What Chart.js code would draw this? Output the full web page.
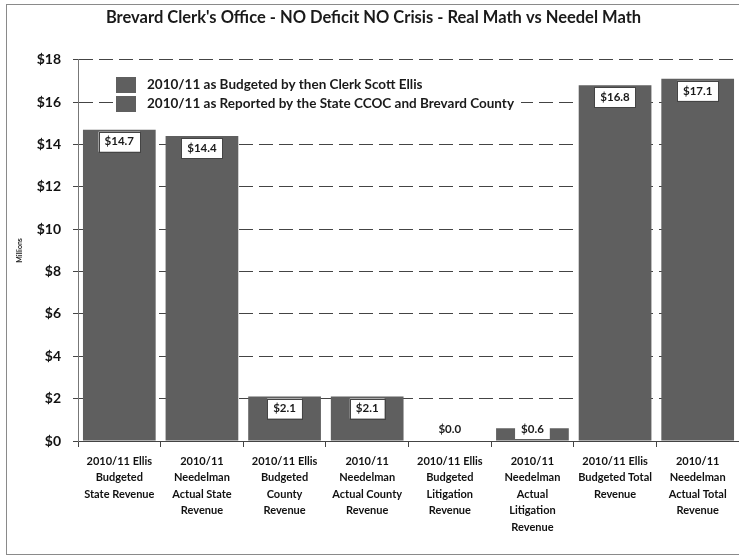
<!DOCTYPE html>
<html>
<head>
<meta charset="utf-8">
<script src="https://cdn.jsdelivr.net/npm/chart.js@4.4.0/dist/chart.umd.min.js"></script>
<style>
html, body { margin: 0; padding: 0; background: #fff; }
</style>
</head>
<body>
<canvas id="myChart" width="739" height="557"></canvas>
<script>
// categories and values (millions of dollars)
const categories = [
    ['2010/11 Ellis', 'Budgeted', 'State Revenue'],
    ['2010/11', 'Needelman', 'Actual State', 'Revenue'],
    ['2010/11 Ellis', 'Budgeted', 'County', 'Revenue'],
    ['2010/11', 'Needelman', 'Actual County', 'Revenue'],
    ['2010/11 Ellis', 'Budgeted', 'Litigation', 'Revenue'],
    ['2010/11', 'Needelman', 'Actual', 'Litigation', 'Revenue'],
    ['2010/11 Ellis', 'Budgeted Total', 'Revenue'],
    ['2010/11', 'Needelman', 'Actual Total', 'Revenue']
];
const budgetedEllis = [14.7, null, 2.1, null, 0.0, null, 16.8, null];
const reportedState = [null, 14.4, null, 2.1, null, 0.6, null, 17.1];
const seriesNames = [
    '2010/11 as Budgeted by then Clerk Scott Ellis',
    '2010/11 as Reported by the State CCOC and Brevard County'
];
const yMax = 18;
const yStep = 2;

const barGrey = '#5f5f5f';
const fontFam = 'Lato, "Open Sans", sans-serif';

const framePlugin = {
    id: 'frame',
    beforeDraw(chart) {
        const c = chart.ctx;
        c.save();
        c.fillStyle = '#fff';
        c.fillRect(0, 0, chart.width, chart.height);
        c.strokeStyle = '#8a8a8a';
        c.lineWidth = 1;
        c.strokeRect(6.5, 4.5, chart.width + 10, chart.height - 7);
        c.restore();
    }
};

// legend drawn inside the plot, one entry per row, on a white patch
const innerLegend = {
    id: 'innerLegend',
    afterDraw(chart) {
        const c = chart.ctx;
        c.save();
        c.font = 'bold 13.5px ' + fontFam;
        c.textBaseline = 'middle';
        let maxW = 0;
        chart.data.datasets.forEach(ds => { maxW = Math.max(maxW, c.measureText(ds.label).width); });
        c.fillStyle = '#fff';
        c.fillRect(138, 75, maxW + 16, 40);
        chart.data.datasets.forEach((ds, i) => {
            const y = 85 + i * 19;
            c.fillStyle = ds.backgroundColor;
            c.fillRect(116, y - 8, 20, 16);
            c.fillStyle = '#1a1a1a';
            c.fillText(ds.label, 147, y);
        });
        c.restore();
    }
};

const valueLabels = {
    id: 'valueLabels',
    afterDatasetsDraw(chart) {
        const c = chart.ctx;
        const base = chart.scales.y.getPixelForValue(0);
        c.save();
        c.font = 'bold 11.5px ' + fontFam;
        c.textAlign = 'center';
        c.textBaseline = 'middle';
        chart.data.datasets.forEach((ds, i) => {
            chart.getDatasetMeta(i).data.forEach((bar, j) => {
                const v = ds.data[j];
                if (v === null) return;
                const txt = '$' + v.toFixed(1);
                const inside = base - bar.y > 26;
                const cy = inside ? bar.y + 12 : base - 12;
                const w = c.measureText(txt).width + 12;
                c.fillStyle = '#fff';
                c.fillRect(bar.x - w / 2, cy - 10, w, 20);
                if (inside) {
                    c.strokeStyle = '#444';
                    c.lineWidth = 1;
                    c.strokeRect(Math.round(bar.x - w / 2) + 0.5, Math.round(cy - 10) + 0.5, Math.round(w), 20);
                }
                c.fillStyle = '#1a1a1a';
                c.fillText(txt, bar.x, cy);
            });
        });
        c.restore();
    }
};

new Chart(document.getElementById('myChart'), {
    type: 'bar',
    data: {
        labels: categories,
        datasets: [{
            label: seriesNames[0],
            data: budgetedEllis,
            backgroundColor: barGrey
        }, {
            label: seriesNames[1],
            data: reportedState,
            backgroundColor: barGrey
        }]
    },
    options: {
        responsive: false,
        animation: false,
        grouped: false,
        barPercentage: 0.88,
        categoryPercentage: 1.0,
        layout: { padding: { left: 8, right: 0, top: 0, bottom: 2 } },
        plugins: {
            legend: { display: false },
            tooltip: { enabled: false },
            title: {
                display: true,
                text: "Brevard Clerk's Office - NO Deficit NO Crisis - Real Math vs Needel Math",
                color: '#1a1a1a',
                font: { family: fontFam, size: 16.5, weight: 'bold' },
                padding: { top: 8, bottom: 32 }
            }
        },
        scales: {
            x: {
                ticks: {
                    color: '#111',
                    font: { family: fontFam, size: 11, weight: 'bold', lineHeight: 1.5 },
                    padding: 6,
                    maxRotation: 0,
                    autoSkip: false
                },
                grid: { drawOnChartArea: false, tickLength: 6, color: '#444' },
                border: { color: '#444' },
                afterFit(s) { s.height = 114; }
            },
            y: {
                min: 0,
                max: yMax,
                ticks: {
                    stepSize: yStep,
                    color: '#111',
                    font: { family: fontFam, size: 14, weight: 'bold' },
                    padding: 12,
                    callback: v => '$' + v
                },
                grid: { color: '#444', tickLength: 5 },
                border: { color: '#777', dash: [14, 6] },
                title: {
                    display: true,
                    text: 'Millions',
                    color: '#222',
                    font: { family: fontFam, size: 7, weight: 'bold' },
                    padding: { top: 8, bottom: 0 }
                },
                afterFit(s) { s.width = 70; }
            }
        }
    },
    plugins: [framePlugin, innerLegend, valueLabels]
});
</script>
</body>
</html>
